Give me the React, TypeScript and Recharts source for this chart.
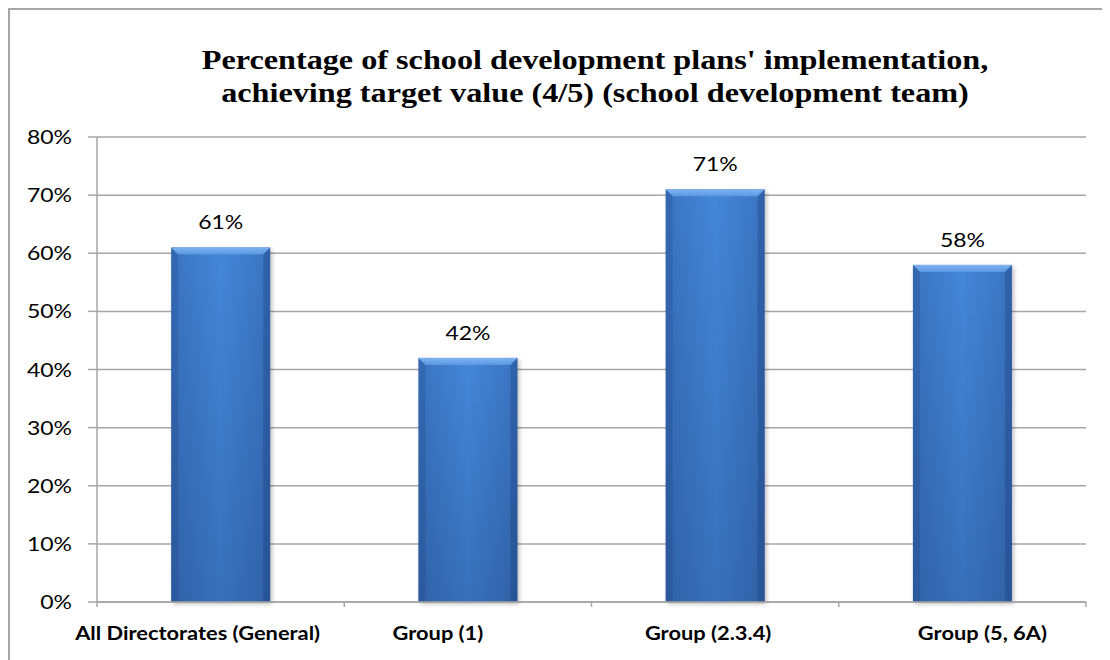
import React from 'react';
import { BarChart, Bar, XAxis, YAxis, CartesianGrid, LabelList } from 'recharts';

const categories = ['All Directorates (General)', 'Group (1)', 'Group (2.3.4)', 'Group (5, 6A)'];
const values = [61, 42, 71, 58];
const yTicks = [0, 10, 20, 30, 40, 50, 60, 70, 80];

const data = categories.map((name, i) => ({ name, value: values[i] }));

const CHART_W = 1102;
const CHART_H = 652;
const MARGIN = { top: 129, right: 24, left: 0, bottom: 8 };
const Y_AXIS_W = 89;
const PLOT_W = CHART_W - MARGIN.left - MARGIN.right - Y_AXIS_W;
const BAND = PLOT_W / categories.length;
// label nudges, the original labels are not quite centred
const LABEL_DX = [-23, -30, -7, 20];
const GRID = '#a6a6a6';
const SANS = 'Lato, sans-serif';
// the source picture is a bit stretched sideways
const STRETCH = 1.15;

const XTick = (props: any) => {
  const { x, y, payload, index } = props;
  const axisY = y - 8;
  const left = x - BAND / 2;
  return (
    <g>
      <line x1={left} y1={axisY} x2={left} y2={axisY + 5} stroke={GRID} strokeWidth={1.5} />
      {index === categories.length - 1 && (
        <line x1={x + BAND / 2} y1={axisY} x2={x + BAND / 2} y2={axisY + 5} stroke={GRID} strokeWidth={1.5} />
      )}
      <g transform={`translate(${x + (LABEL_DX[index] || 0)},${y + 30}) scale(${STRETCH},1)`}>
        <text x={0} y={0} textAnchor="middle" fontFamily={SANS} fontWeight="bold" fontSize={19} fill="#000">
          {payload.value}
        </text>
      </g>
    </g>
  );
};

const YTick = (props: any) => {
  const { x, y, payload } = props;
  return (
    <g transform={`translate(${x},${y}) scale(${STRETCH},1)`}>
      <text x={0} y={0} dy="0.355em" textAnchor="end" fontFamily={SANS} fontSize={20} fill="#000">
        {`${payload.value}%`}
      </text>
    </g>
  );
};

const ValueLabel = (props: any) => {
  const { x, y, width, value } = props;
  return (
    <g transform={`translate(${x + width / 2},${y - 18}) scale(${STRETCH},1)`}>
      <text x={0} y={0} textAnchor="middle" fontFamily={SANS} fontSize={20} fill="#000">
        {`${value}%`}
      </text>
    </g>
  );
};

const BevelBar = (props: any) => {
  const { x, y, width, height } = props;
  if (!height || height <= 0) return null;
  const b = 7;
  return (
    <g>
      <rect x={x + 2} y={y + 2} width={width} height={height} fill="rgba(0,0,0,0.25)" filter="url(#barShadow)" />
      <rect x={x} y={y} width={width} height={height} fill="url(#barBody)" />
      <rect x={x} y={y} width={width} height={height} fill="url(#barShade)" />
      <polygon
        points={`${x},${y} ${x + width},${y} ${x + width - b},${y + b} ${x + b},${y + b}`}
        fill="url(#barTop)"
      />
      <polygon points={`${x},${y} ${x + b},${y + b} ${x + b},${y + height} ${x},${y + height}`} fill="rgba(20,50,110,0.18)" />
      <polygon
        points={`${x + width},${y} ${x + width - b},${y + b} ${x + width - b},${y + height} ${x + width},${y + height}`}
        fill="rgba(20,50,110,0.28)"
      />
    </g>
  );
};

export default function App() {
  return (
    <div style={{ position: 'relative', width: CHART_W, height: CHART_H }}>
      <div
        style={{
          position: 'absolute',
          left: 0,
          top: 0,
          width: CHART_W + 20,
          height: CHART_H + 20,
          borderTop: `2px solid ${GRID}`,
          borderLeft: `2px solid ${GRID}`,
          boxSizing: 'border-box',
        }}
      />
      <div
        style={{
          position: 'absolute',
          left: 587,
          top: 35,
          transform: `translateX(-50%) scaleX(${STRETCH})`,
          whiteSpace: 'nowrap',
          textAlign: 'center',
          fontFamily: '"Liberation Serif", "Times New Roman", serif',
          fontWeight: 'bold',
          fontSize: 28,
          lineHeight: '33px',
          color: '#000',
        }}
      >
        Percentage of school development plans' implementation,
        <br />
        achieving target value (4/5) (school development team)
      </div>
      <div style={{ position: 'absolute', left: 0, top: 0 }}>
        <BarChart width={CHART_W} height={CHART_H} data={data} margin={MARGIN} barCategoryGap="30%">
          <defs>
            <linearGradient id="barBody" x1="0" y1="0" x2="1" y2="0">
              <stop offset="0%" stopColor="#3a74c0" />
              <stop offset="50%" stopColor="#4487d8" />
              <stop offset="100%" stopColor="#3a74c0" />
            </linearGradient>
            <linearGradient id="barShade" x1="0" y1="0" x2="0" y2="1">
              <stop offset="0%" stopColor="rgba(0,0,40,0)" />
              <stop offset="100%" stopColor="rgba(0,10,50,0.18)" />
            </linearGradient>
            <linearGradient id="barTop" x1="0" y1="0" x2="0" y2="1">
              <stop offset="0%" stopColor="#7fb3f0" />
              <stop offset="100%" stopColor="#5a98e3" />
            </linearGradient>
            <filter id="barShadow" x="-10%" y="-10%" width="130%" height="130%">
              <feGaussianBlur stdDeviation="2" />
            </filter>
          </defs>
          <CartesianGrid horizontal vertical={false} stroke={GRID} strokeWidth={1.5} />
          <XAxis
            dataKey="name"
            height={50}
            axisLine={{ stroke: GRID, strokeWidth: 1.5 }}
            tickLine={false}
            interval={0}
            tick={<XTick />}
          />
          <YAxis
            width={Y_AXIS_W}
            domain={[0, 80]}
            ticks={yTicks}
            axisLine={{ stroke: GRID, strokeWidth: 1.5 }}
            tickLine={{ stroke: GRID, strokeWidth: 1.5 }}
            tickSize={9}
            tickMargin={16}
            tick={<YTick />}
          />
          <Bar dataKey="value" shape={<BevelBar />} isAnimationActive={false}>
            <LabelList dataKey="value" content={<ValueLabel />} />
          </Bar>
        </BarChart>
      </div>
    </div>
  );
}
